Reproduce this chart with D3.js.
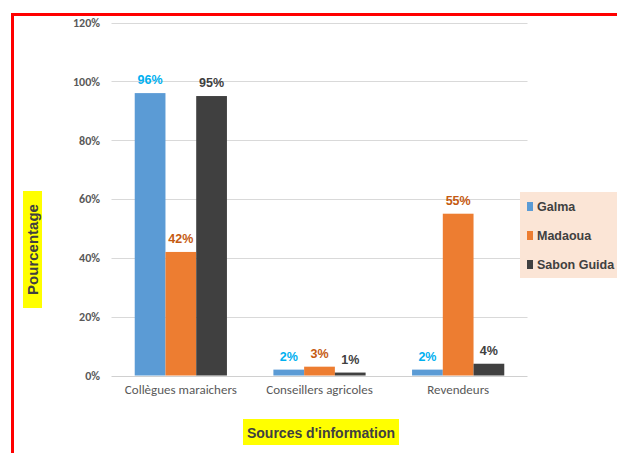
<!DOCTYPE html>
<html><head><meta charset="utf-8">
<script src="https://cdn.jsdelivr.net/npm/d3@7"></script>
<style>body{margin:0;background:#fff;} svg{display:block;}</style>
</head><body>
<svg id="c" width="617" height="453"></svg>
<script>
const categories = ["Collègues maraichers", "Conseillers agricoles", "Revendeurs"];
const seriesNames = ["Galma", "Madaoua", "Sabon Guida"];
const galma = [96, 2, 2];
const madaoua = [42, 3, 55];
const sabonGuida = [95, 1, 4];
const yTicks = [0, 20, 40, 60, 80, 100, 120];
const barColors = ["#5B9BD5", "#ED7D31", "#404040"];
const labelColors = ["#00B0F0", "#C55A11", "#404040"];
const values = [galma, madaoua, sabonGuida];

const svg = d3.select("#c");
const narrow = "Carlito, 'Liberation Sans Narrow', 'Arial Narrow', 'Liberation Sans', sans-serif";
const bold = "'Liberation Sans', Arial, sans-serif";

// red frame
svg.append("rect").attr("x", 12.5).attr("y", 14.5).attr("width", 620).attr("height", 450)
  .attr("fill", "none").attr("stroke", "#FF0000").attr("stroke-width", 3);

const x0 = d3.scaleBand().domain(categories).range([111.5, 527.5]).paddingInner(0.335).paddingOuter(0.1675);
const x1 = d3.scaleBand().domain(seriesNames).range([0, x0.bandwidth()]);
const y = d3.scaleLinear().domain([0, 120]).range([375.5, 22.5]);

// gridlines
svg.append("g").selectAll("line").data(yTicks).join("line")
  .attr("x1", 111.5).attr("x2", 527.5)
  .attr("y1", d => Math.round(y(d)) + 0.5).attr("y2", d => Math.round(y(d)) + 0.5)
  .attr("stroke", d => d === 0 ? "#D0D0D0" : "#D9D9D9").attr("stroke-width", 1);

// y axis labels
const yAxis = d3.axisLeft(y).tickValues(yTicks).tickFormat(d => d + "%").tickSize(0).tickPadding(0);
const ya = svg.append("g").attr("transform", "translate(100,0)").call(yAxis);
ya.select(".domain").remove();
ya.selectAll("text").attr("font-family", narrow).attr("font-size", 12).attr("font-weight", "bold")
  .attr("fill", "#595959");

// bars
const groups = svg.append("g").selectAll("g").data(categories).join("g")
  .attr("transform", d => `translate(${x0(d)},0)`);
groups.selectAll("rect").data((c, i) => seriesNames.map((s, k) => ({s, k, v: values[k][i]})))
  .join("rect")
  .attr("x", d => x1(d.s)).attr("width", x1.bandwidth())
  .attr("y", d => y(d.v)).attr("height", d => y(0) - y(d.v))
  .attr("fill", d => barColors[d.k]);
groups.selectAll("text").data((c, i) => seriesNames.map((s, k) => ({s, k, v: values[k][i]})))
  .join("text")
  .attr("x", d => x1(d.s) + x1.bandwidth() / 2).attr("y", d => y(d.v) - 9)
  .attr("text-anchor", "middle").attr("font-family", bold).attr("font-weight", "bold")
  .attr("font-size", 12.5).attr("fill", d => labelColors[d.k]).text(d => d.v + "%");

// x axis labels
const xAxis = d3.axisBottom(x0).tickSize(0).tickPadding(0);
const xa = svg.append("g").attr("transform", "translate(0,390)").call(xAxis);
xa.select(".domain").remove();
xa.selectAll("text").attr("font-family", narrow).attr("font-size", 13)
  .attr("fill", "#595959").attr("dy", "0.3em");

// x title
svg.append("rect").attr("x", 243).attr("y", 419).attr("width", 156).attr("height", 26).attr("fill", "#FFFF00");
svg.append("text").attr("x", 321).attr("y", 437.5).attr("text-anchor", "middle")
  .attr("font-family", bold).attr("font-weight", "bold").attr("font-size", 14).attr("fill", "#404040")
  .text("Sources d'information");

// y title
svg.append("rect").attr("x", 23).attr("y", 191).attr("width", 19).attr("height", 117).attr("fill", "#FFFF00");
svg.append("text").attr("transform", "translate(37.5,249.5) rotate(-90)").attr("text-anchor", "middle")
  .attr("font-family", bold).attr("font-weight", "bold").attr("font-size", 15).attr("fill", "#404040")
  .text("Pourcentage");

// legend
svg.append("rect").attr("x", 520).attr("y", 192).attr("width", 100).attr("height", 86).attr("fill", "#FBE5D6");
const lg = svg.append("g").selectAll("g").data(seriesNames).join("g")
  .attr("transform", (d, i) => `translate(527,${206 + i * 29})`);
lg.append("rect").attr("x", 0).attr("y", -4).attr("width", 6).attr("height", 9).attr("fill", (d, i) => barColors[i]);
lg.append("text").attr("x", 10).attr("y", 5).attr("font-family", bold).attr("font-weight", "bold")
  .attr("font-size", 12.5).attr("fill", "#404040").text(d => d);
</script>
</body></html>
